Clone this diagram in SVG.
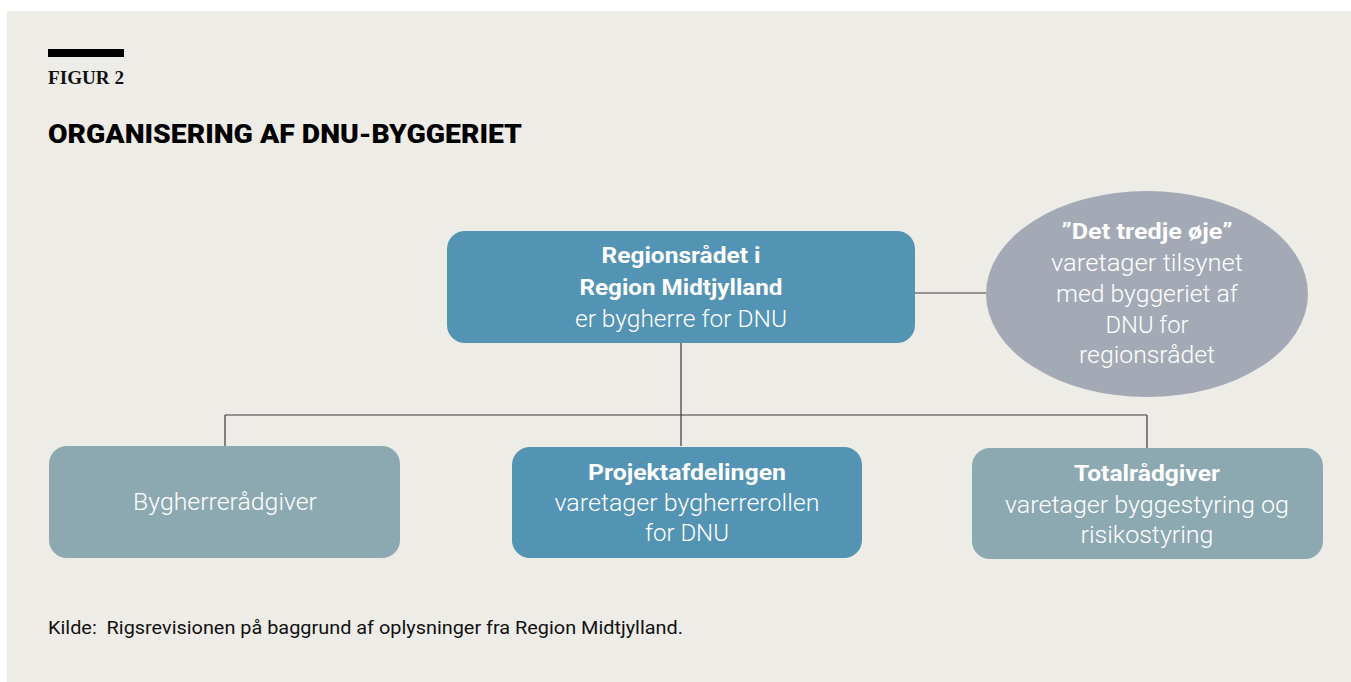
<svg xmlns="http://www.w3.org/2000/svg" width="1351" height="682" viewBox="0 0 1351 682">
<style>
.t{font-family:Roboto,"Noto Sans","Liberation Sans",sans-serif;font-size:23px;font-weight:300;fill:#ffffff;text-anchor:middle}
.b{font-weight:bold;font-size:22px}
.conn{stroke:#3a3a3a;stroke-width:1.2;fill:none}
.blue{fill:#5393b3}
.grey{fill:#8ca8b0}
</style>
<rect x="0" y="0" width="1351" height="682" fill="#ffffff"/>
<rect x="7" y="11" width="1344" height="671" fill="#eeece7"/>
<rect x="48" y="49" width="76" height="8" fill="#000000"/>
<text x="48" y="84" font-family="Liberation Serif,serif" font-weight="bold" font-size="18" fill="#111111" textLength="76" lengthAdjust="spacingAndGlyphs">FIGUR 2</text>
<text x="48" y="143" font-family="Roboto,'Liberation Sans',sans-serif" font-weight="900" font-size="25" fill="#000000" textLength="474" lengthAdjust="spacingAndGlyphs">ORGANISERING AF DNU-BYGGERIET</text>
<g id="connectors">
<path class="conn" d="M915 293H986"/>
<path class="conn" d="M681 343V446"/>
<path class="conn" d="M225 415H1147"/>
<path class="conn" d="M225 415V446"/>
<path class="conn" d="M1147 415V448"/>
</g>
<g id="regionsraadet">
<rect class="blue" x="447" y="231" width="468" height="112" rx="18"/>
<text class="t b" x="681" y="263" textLength="159" lengthAdjust="spacingAndGlyphs">Regionsrådet i</text>
<text class="t b" x="681" y="295" textLength="203" lengthAdjust="spacingAndGlyphs">Region Midtjylland</text>
<text class="t" x="681" y="327" textLength="212" lengthAdjust="spacingAndGlyphs">er bygherre for DNU</text>
</g>
<g id="tredje-oeje">
<ellipse cx="1147" cy="294" rx="161" ry="103" fill="#a3aab5"/>
<text class="t b" x="1147" y="239" textLength="171" lengthAdjust="spacingAndGlyphs">”Det tredje øje”</text>
<text class="t" x="1147" y="271" textLength="192" lengthAdjust="spacingAndGlyphs">varetager tilsynet</text>
<text class="t" x="1147" y="302" textLength="182" lengthAdjust="spacingAndGlyphs">med byggeriet af</text>
<text class="t" x="1147" y="333" textLength="83" lengthAdjust="spacingAndGlyphs">DNU for</text>
<text class="t" x="1147" y="363" textLength="136" lengthAdjust="spacingAndGlyphs">regionsrådet</text>
</g>
<g id="bygherreraadgiver">
<rect class="grey" x="49" y="446" width="351" height="112" rx="18"/>
<text class="t" x="225" y="510" textLength="184" lengthAdjust="spacingAndGlyphs">Bygherrerådgiver</text>
</g>
<g id="projektafdelingen">
<rect class="blue" x="512" y="447" width="350" height="111" rx="18"/>
<text class="t b" x="687" y="480" textLength="198" lengthAdjust="spacingAndGlyphs">Projektafdelingen</text>
<text class="t" x="687" y="511" textLength="265" lengthAdjust="spacingAndGlyphs">varetager bygherrerollen</text>
<text class="t" x="687" y="541" textLength="84" lengthAdjust="spacingAndGlyphs">for DNU</text>
</g>
<g id="totalraadgiver">
<rect class="grey" x="972" y="448" width="351" height="111" rx="18"/>
<text class="t b" x="1147" y="481" textLength="146" lengthAdjust="spacingAndGlyphs">Totalrådgiver</text>
<text class="t" x="1147" y="513" textLength="284" lengthAdjust="spacingAndGlyphs">varetager byggestyring og</text>
<text class="t" x="1147" y="543" textLength="133" lengthAdjust="spacingAndGlyphs">risikostyring</text>
</g>
<text x="48" y="634" font-family="Roboto,'Liberation Sans',sans-serif" font-size="18" fill="#111111" textLength="635" lengthAdjust="spacingAndGlyphs" xml:space="preserve">Kilde:  Rigsrevisionen på baggrund af oplysninger fra Region Midtjylland.</text>
</svg>
